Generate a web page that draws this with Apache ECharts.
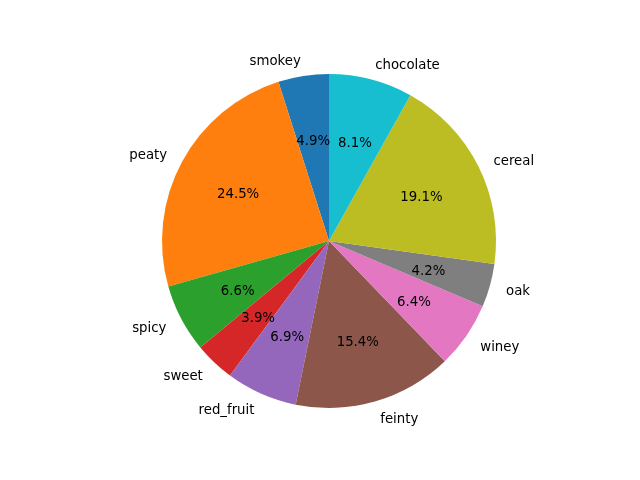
<!DOCTYPE html>
<html><head><meta charset="utf-8">
<script src="https://cdn.jsdelivr.net/npm/echarts@6/dist/echarts.min.js"></script>
<style>html,body{margin:0;padding:0;background:#fff}#c{width:640px;height:480px}</style>
</head><body><div id="c"></div>
<script>
const categories = ['smokey','peaty','spicy','sweet','red_fruit','feinty','winey','oak','cereal','chocolate'];
const values = [4.9,24.5,6.6,3.9,6.9,15.4,6.4,4.2,19.1,8.1];
const colors = ['#1f77b4','#ff7f0e','#2ca02c','#d62728','#9467bd','#8c564b','#e377c2','#7f7f7f','#bcbd22','#17becf'];

const R = 167, C = [329, 241];
const font = {fontFamily: 'DejaVu Sans', fontSize: 13.3, color: '#000'};
const data = categories.map((n,i)=>({name:n, value:values[i], itemStyle:{color:colors[i]}}));
const chart = echarts.init(document.getElementById('c'), null, {renderer:'canvas'});
chart.setOption({
  animation:false,
  backgroundColor:'#fff',
  series:[
    {type:'pie', center:C, radius:[0,R], startAngle:90, clockwise:false,
     avoidLabelOverlap:false, silent:true,
     label:Object.assign({show:true, position:'outside', formatter:'{b}', distanceToLabelLine:0, alignTo:'none', offset:[0,2]}, font),
     labelLine:{show:false, length:R*0.1, length2:0},
     itemStyle:{borderWidth:0},
     data:data},
    {type:'pie', center:C, radius:[R*0.2,R], startAngle:90, clockwise:false,
     avoidLabelOverlap:false, silent:true,
     label:Object.assign({show:true, position:'inside', offset:[0,2.5], formatter:p=>p.value.toFixed(1)+'%'}, font),
     labelLine:{show:false},
     itemStyle:{color:'rgba(0,0,0,0)', borderWidth:0},
     data:categories.map((n,i)=>({name:n, value:values[i]}))}
  ]
});
</script></body></html>
